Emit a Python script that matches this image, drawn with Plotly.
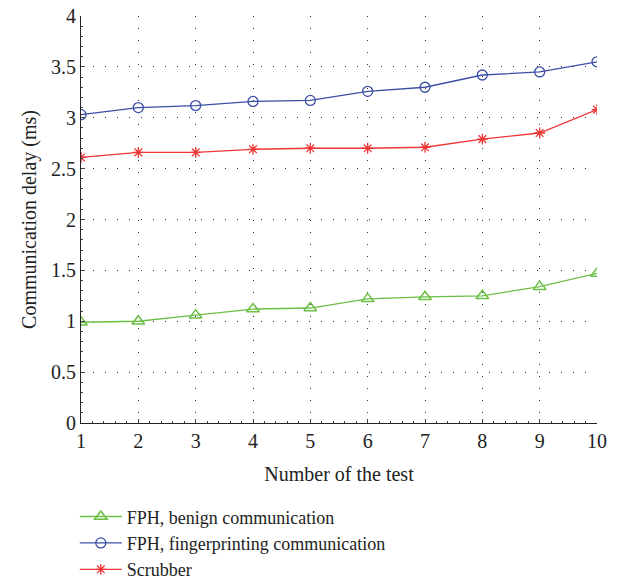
import plotly.graph_objects as go

tests = [1, 2, 3, 4, 5, 6, 7, 8, 9, 10]
benign = [0.99, 1.00, 1.06, 1.12, 1.13, 1.22, 1.24, 1.25, 1.34, 1.47]
fingerprinting = [3.03, 3.10, 3.12, 3.16, 3.17, 3.26, 3.30, 3.42, 3.45, 3.55]
scrubber = [2.61, 2.66, 2.66, 2.69, 2.70, 2.70, 2.71, 2.79, 2.85, 3.08]
names = ["FPH, benign communication", "FPH, fingerprinting communication", "Scrubber"]

font = "Liberation Serif, Times New Roman, serif"

fig = go.Figure()
fig.add_trace(go.Scatter(x=tests, y=benign, name=names[0], mode="lines+markers",
                         line=dict(color="#6cbf45", width=1.3),
                         marker=dict(symbol="triangle-up-open", size=11, color="#6cbf45", line=dict(width=1.5))))
fig.add_trace(go.Scatter(x=tests, y=fingerprinting, name=names[1], mode="lines+markers",
                         line=dict(color="#3a4fa6", width=1.3),
                         marker=dict(symbol="circle-open", size=10, color="#3a4fa6", line=dict(width=1.3))))
fig.add_trace(go.Scatter(x=tests, y=scrubber, name=names[2], mode="lines+markers",
                         line=dict(color="#f03535", width=1.3),
                         marker=dict(symbol="asterisk-open", size=9, color="#f03535", line=dict(width=1.3))))

fig.update_layout(
    width=619, height=581,
    margin=dict(l=81, r=22, t=16, b=158, autoexpand=False),
    paper_bgcolor="white", plot_bgcolor="white",
    font=dict(family=font, size=20, color="#222"),
    showlegend=True,
    legend=dict(x=-0.012, y=-0.185, xanchor="left", yanchor="top",
                font=dict(family=font, size=18, color="#222"),
                tracegroupgap=0, itemwidth=42, bgcolor="rgba(0,0,0,0)"),
)
fig.update_xaxes(range=[1, 10], tickvals=tests, ticks="inside", ticklen=4,
                 showline=True, linecolor="#222", linewidth=1.2,
                 showgrid=True, gridcolor="#333", griddash="1px,11px", gridwidth=1.2,
                 zeroline=False, tickfont=dict(size=20), automargin=False,
                 title=dict(text="Number of the test", font=dict(size=20), standoff=15),
                 minor=dict(ticks="inside", ticklen=2, dtick=0.2, tickcolor="#444", showgrid=False))
fig.update_yaxes(range=[0, 4], dtick=0.5, ticks="inside", ticklen=4,
                 showline=True, linecolor="#222", linewidth=1.2,
                 showgrid=True, gridcolor="#333", griddash="1px,11px", gridwidth=1.2,
                 zeroline=False, tickfont=dict(size=20), automargin=False,
                 title=dict(text="Communication delay (ms)", font=dict(size=20), standoff=8),
                 minor=dict(ticks="inside", ticklen=2, dtick=0.1, tickcolor="#444", showgrid=False))

fig.write_html("out.html")
